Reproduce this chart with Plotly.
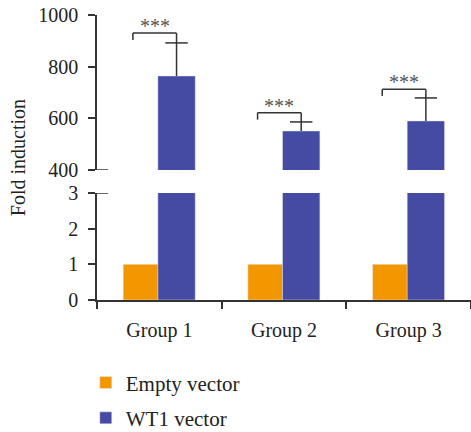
import plotly.graph_objects as go

groups = ["Group 1", "Group 2", "Group 3"]
empty_vals = [1, 1, 1]
wt1_vals = [764, 551, 590]
wt1_err = [128, 35, 89]
bracket_y = [930, 622, 713]
stars = ["***", "***", "***"]

ORANGE = "#F39700"
BLUE = "#454AA3"
FONT = "Liberation Serif"
AX = "#333333"
TXT = "#222222"

idx = list(range(len(groups)))
blue_off = -0.012
blue_w = 0.30
blue_ctr = [i + blue_off + blue_w / 2 for i in idx]
err_top = [v + e for v, e in zip(wt1_vals, wt1_err)]

fig = go.Figure()

# bottom panel
fig.add_trace(go.Bar(x=idx, y=empty_vals, name="Empty vector", marker_color=ORANGE,
                     offset=-0.29, width=0.28, xaxis="x", yaxis="y", legendgroup="a"))
fig.add_trace(go.Bar(x=idx, y=wt1_vals, name="WT1 vector", marker_color=BLUE,
                     offset=blue_off, width=blue_w, xaxis="x", yaxis="y", legendgroup="b"))
# top panel
fig.add_trace(go.Bar(x=idx, y=wt1_vals, name="WT1 vector", marker_color=BLUE,
                     offset=blue_off, width=blue_w, xaxis="x2", yaxis="y2", showlegend=False,
                     error_y=dict(type="data", array=wt1_err, arrayminus=[0, 0, 0], symmetric=False,
                                  color=AX, thickness=1.5, width=0)))
# error caps
fig.add_trace(go.Scatter(x=blue_ctr, y=err_top, mode="markers", xaxis="x2", yaxis="y2",
                         showlegend=False, hoverinfo="skip",
                         marker=dict(symbol="line-ew", size=16, color=AX,
                                     line=dict(color=AX, width=1.5))))

shapes = []
annotations = []
for i in idx:
    xl = i - 0.212
    xr = blue_ctr[i]
    yb = bracket_y[i]
    for (x0, y0, x1, y1) in [(xl, yb, xr, yb), (xl, yb, xl, yb - 27), (xr, yb, xr, err_top[i])]:
        shapes.append(dict(type="line", xref="x2", yref="y2", x0=x0, y0=y0, x1=x1, y1=y1,
                           line=dict(color=AX, width=1.5)))
    annotations.append(dict(x=(xl + xr) / 2, y=yb, xref="x2", yref="y2", text=stars[i],
                            showarrow=False, yanchor="bottom", yshift=-6,
                            font=dict(family=FONT, size=20, color="#555555")))

# axis break marks
shapes.append(dict(type="line", xref="paper", yref="y2", x0=0, x1=0.03, y0=400, y1=400,
                   line=dict(color=AX, width=1.5)))
shapes.append(dict(type="line", xref="paper", yref="y", x0=0, x1=0.03, y0=3, y1=3,
                   line=dict(color=AX, width=1.5)))

annotations.append(dict(x=-0.211, y=0.498, xref="paper", yref="paper", text="Fold induction",
                        textangle=-90, showarrow=False, xanchor="center", yanchor="middle",
                        font=dict(family=FONT, size=20, color=TXT)))

bottom_top = (300 - 193) / 285
top_bot = (300 - 170) / 285
tickfont = dict(family=FONT, size=20, color=TXT)

fig.update_layout(
    width=471, height=432,
    margin=dict(l=97, r=0, t=15, b=132, autoexpand=False),
    plot_bgcolor="white", paper_bgcolor="white",
    barmode="overlay",
    font=dict(family=FONT, size=20, color=TXT),
    xaxis=dict(range=[-0.5, 2.5], anchor="y", showline=True, linecolor=AX, linewidth=1.5,
               tickvals=idx, ticktext=groups, ticks="", tickfont=tickfont,
               minor=dict(tickvals=[-0.5, 0.5, 1.5, 2.5], ticks="outside", ticklen=7,
                          tickcolor=AX, tickwidth=1.5, showgrid=False),
               showgrid=False, zeroline=False, ticklabelstandoff=11),
    xaxis2=dict(range=[-0.5, 2.5], anchor="y2", matches="x", visible=False),
    yaxis=dict(domain=[0, bottom_top], range=[0, 3], tickvals=[0, 1, 2, 3], showline=True,
               linecolor=AX, linewidth=1.5, ticks="outside", ticklen=7, tickcolor=AX, tickwidth=1.5,
               showgrid=False, zeroline=False, ticklabelstandoff=6, tickfont=tickfont),
    yaxis2=dict(domain=[top_bot, 1], range=[400, 1000], tickvals=[400, 600, 800, 1000], showline=True,
                linecolor=AX, linewidth=1.5, ticks="outside", ticklen=7, tickcolor=AX, tickwidth=1.5,
                showgrid=False, zeroline=False, ticklabelstandoff=6, anchor="x2", tickfont=tickfont),
    showlegend=True,
    legend=dict(x=-0.03, y=-0.219, xanchor="left", yanchor="top", orientation="v",
                traceorder="grouped", tracegroupgap=5, font=dict(family=FONT, size=21, color=TXT),
                bgcolor="rgba(0,0,0,0)"),
    shapes=shapes, annotations=annotations,
)

fig.write_html("out.html")
